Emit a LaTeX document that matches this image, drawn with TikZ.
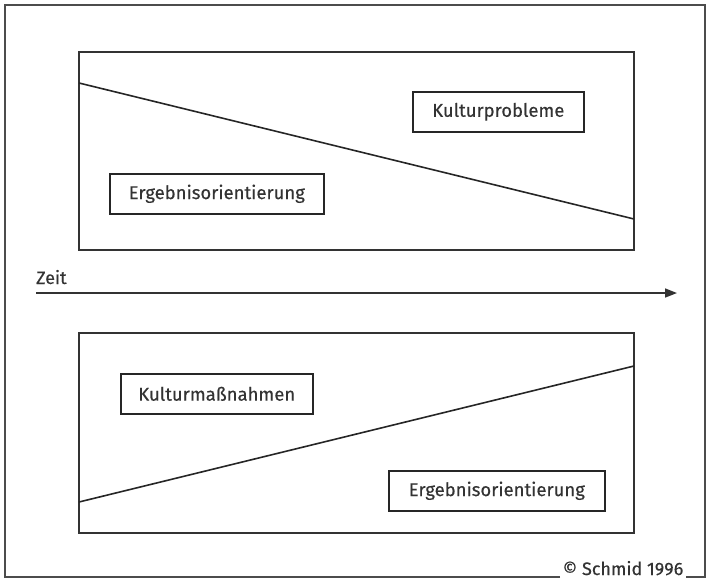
\documentclass[tikz,border=0pt]{standalone}
\usepackage{fontspec}
\setmainfont{Fira Sans}
\newfontfamily\lblfont{Fira Sans}[FakeBold=0.35]
\usetikzlibrary{arrows.meta}
\begin{document}
\begin{tikzpicture}[x=1pt,y=-1pt,
  panel/.style={draw=black!80,line width=1.7pt},
  label/.style={draw=black!85,line width=1.6pt,minimum height=40pt,inner xsep=0pt,font=\lblfont\fontsize{18.5}{20}\selectfont,text=black!80,anchor=north west},
  small/.style={font=\lblfont\fontsize{18}{20}\selectfont,text=black!80,inner sep=0pt},
  trend/.style={draw=black!85,line width=1.6pt},
  frame/.style={draw=black!70,line width=2pt}]
\useasboundingbox (0,0) rectangle (706,579);
% outer frame with gap for copyright
\draw[frame] (560,577) -- (5,577) -- (5,5) -- (705,5) -- (705,577) -- (686,577);
\node[small,anchor=base] (copy) at (623,575) {© Schmid 1996};
% top panel
\draw[panel] (79,52) rectangle (634,250);
\coordinate (t1) at (79,83);
\coordinate (t2) at (634,219);
\draw[trend] (t1) -- (t2);
\node[label,minimum width=171pt] (kp) at (412,91) {Kulturprobleme};
\node[label,minimum width=214pt] (eo1) at (109,173) {Ergebnisorientierung};
% time axis
\node[small,anchor=base west] (zeit) at (36,284) {Zeit};
\coordinate (a1) at (36,293);
\coordinate (a2) at (677,293);
\draw[draw=black!80,line width=1.6pt,-{Triangle[length=12pt,width=9pt]}] (a1) -- (a2);
% bottom panel
\draw[panel] (79,333) rectangle (634,533);
\coordinate (b1) at (79,502);
\coordinate (b2) at (634,366);
\draw[trend] (b1) -- (b2);
\node[label,minimum width=192pt] (km) at (120,373) {Kulturmaßnahmen};
\node[label,minimum width=216pt] (eo2) at (388,470) {Ergebnisorientierung};
\end{tikzpicture}
\end{document}
